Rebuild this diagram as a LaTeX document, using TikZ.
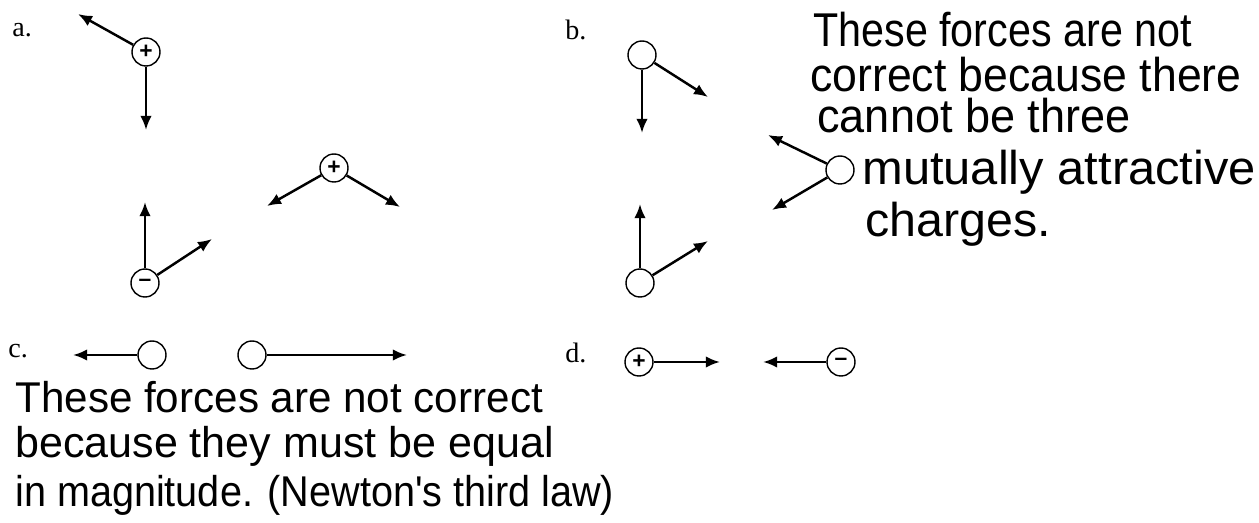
\documentclass[tikz,border=0pt]{standalone}
\usepackage{fontspec}
\setmainfont{Liberation Serif}
\newfontfamily\handfont{Liberation Sans}
\usepackage{graphicx}
\usetikzlibrary{arrows.meta}
\newcommand{\hand}[2][1]{\scalebox{#1}[1]{#2}}
\tikzset{
  charge/.style={draw, circle, line width=0.8pt, minimum size=0.56cm, inner sep=0pt, font=\handfont\bfseries\fontsize{13}{13}\selectfont},
  force/.style={-{Latex[length=8pt,width=6.5pt]}, line width=1.4pt},
  lab/.style={anchor=base west, inner sep=0pt, font=\fontsize{16}{18}\selectfont},
  bnote/.style={anchor=base west, inner sep=0pt, font=\handfont\fontsize{27}{30}\selectfont},
  cnote/.style={anchor=base west, inner sep=0pt, font=\handfont\fontsize{24.5}{28}\selectfont}
}

\begin{document}
\begin{tikzpicture}[x=0.02cm, y=-0.02cm]
    \useasboundingbox (0,0) rectangle (1259,523);

    % a. tre cariche
    \node[lab] (la) at (12,37) {a.};
    \node[charge] (a1) at (146,52) {+};
    \node[charge] (a2) at (145,283) {–};
    \node[charge] (a3) at (334,168) {+};
    \coordinate (a1u) at (78,14);
    \coordinate (a1d) at (146,130);
    \coordinate (a2u) at (145,202);
    \coordinate (a2r) at (212,239);
    \coordinate (a3l) at (267,206);
    \coordinate (a3r) at (400,207);
    \draw[force] (a1) -- (a1u);
    \draw[force] (a1) -- (a1d);
    \draw[force] (a2) -- (a2u);
    \draw[force] (a2) -- (a2r);
    \draw[force] (a3) -- (a3l);
    \draw[force] (a3) -- (a3r);

    % b. cariche neutre
    \node[lab] (lb) at (565,40) {b.};
    \node[charge] (b1) at (642,55) {};
    \node[charge] (b2) at (640,283) {};
    \node[charge] (b3) at (840,170) {};
    \coordinate (b1d) at (642,133);
    \coordinate (b1r) at (708,97);
    \coordinate (b2u) at (640,204);
    \coordinate (b2r) at (708,241);
    \coordinate (b3u) at (768,135);
    \coordinate (b3d) at (772,210);
    \draw[force] (b1) -- (b1d);
    \draw[force] (b1) -- (b1r);
    \draw[force] (b2) -- (b2u);
    \draw[force] (b2) -- (b2r);
    \draw[force] (b3) -- (b3u);
    \draw[force] (b3) -- (b3d);
    \node[bnote] (nb1) at (813,47) {\hand[0.87]{These forces are not}};
    \node[bnote] (nb2) at (810,92) {\hand[0.94]{correct because there}};
    \node[bnote] (nb3) at (817,133) {\hand[0.95]{cannot be three}};
    \node[bnote] (nb4) at (862,185) {\hand[1.03]{mutually attractive}};
    \node[bnote] (nb5) at (865,237) {\hand[1.02]{charges.}};

    % c. forze diverse
    \node[lab] (lc) at (8,358) {c.};
    \node[charge] (c1) at (152,355) {};
    \node[charge] (c2) at (252,355) {};
    \coordinate (c1l) at (73,355);
    \coordinate (c2r) at (407,355);
    \draw[force] (c1) -- (c1l);
    \draw[force] (c2) -- (c2r);
    \node[cnote] (nc1) at (15,413) {\hand[0.98]{These forces are not correct}};
    \node[cnote] (nc2) at (15,458) {\hand{because they must be equal}};
    \node[cnote] (nc3) at (15,507) {\hand[0.92]{in magnitude. (Newton's third law)}};

    % d. cariche opposte
    \node[lab] (ld) at (565,363) {d.};
    \node[charge] (d1) at (639,362) {+};
    \node[charge] (d2) at (841,362) {–};
    \coordinate (d1r) at (720,362);
    \coordinate (d2l) at (763,362);
    \draw[force] (d1) -- (d1r);
    \draw[force] (d2) -- (d2l);
\end{tikzpicture}
\end{document}
